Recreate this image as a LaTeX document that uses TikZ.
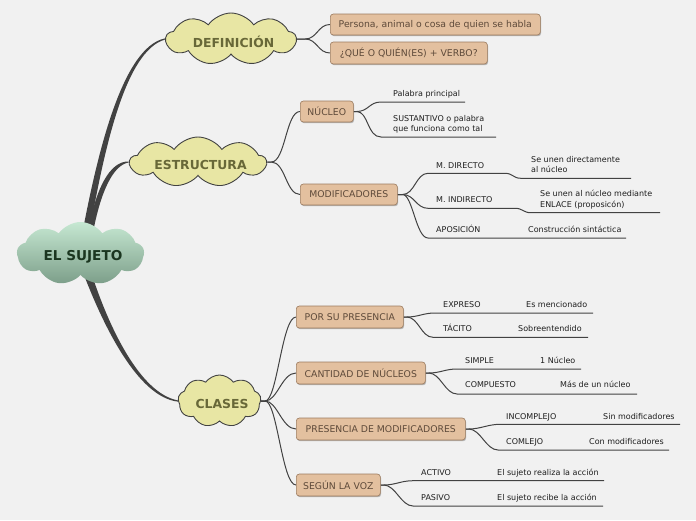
\documentclass[tikz,border=0pt]{standalone}
\usepackage{fontspec}
\setmainfont{DejaVu Sans}
\usetikzlibrary{shapes.symbols,shadows,calc,backgrounds}
\definecolor{bgc}{HTML}{F1F1F1}
\definecolor{cloudfill}{HTML}{E8E6A4}
\definecolor{cloudtext}{HTML}{686838}
\definecolor{boxfill}{HTML}{E3C09F}
\definecolor{boxdraw}{HTML}{9C7B5E}
\definecolor{boxtext}{HTML}{5E4A3A}
\definecolor{connc}{HTML}{424242}
\definecolor{roottop}{HTML}{C6E8D2}
\definecolor{rootbot}{HTML}{7C9E89}
\definecolor{roottext}{HTML}{1B3620}
\definecolor{labeltext}{HTML}{1E1E1E}
\tikzset{
  topic/.style={cloud, cloud puffs=9, cloud puff arc=110, cloud ignores aspect, draw=connc, line width=0.9pt, fill=cloudfill, inner sep=0pt},
  topictxt/.style={font=\fontsize{12.4}{14}\selectfont\bfseries, text=cloudtext, inner sep=0pt, xshift=2.5pt, yshift=-3pt},
  rootcloud/.style={cloud, cloud puffs=9, cloud puff arc=110, cloud ignores aspect, top color=roottop, bottom color=rootbot, draw=none, inner sep=0pt},
  roottxt/.style={font=\fontsize{13.6}{15}\selectfont\bfseries, text=roottext, inner sep=0pt, xshift=2.5pt, yshift=-3pt},
  tbox/.style={draw=boxdraw, fill=boxfill, rounded corners=3pt, line width=0.6pt, anchor=west, minimum height=21pt, inner sep=0pt, font=\fontsize{9.3}{11}\selectfont, text=boxtext, drop shadow={shadow xshift=0.8pt, shadow yshift=-1.2pt, fill=black, opacity=0.25}},
  lab/.style={anchor=base west, inner sep=0pt, font=\fontsize{8}{9}\selectfont, text=labeltext},
  link/.style={draw=connc, line width=1pt},
  trunk/.style={fill=connc, draw=none},
}
\begin{document}
\begin{tikzpicture}[x=1pt,y=-1pt]
% main clouds
\node[rootcloud, minimum width=127pt, minimum height=63pt, label={[roottxt]center:EL SUJETO}] (root) at (80.5,253.5) {};
\node[topic, minimum width=130pt, minimum height=52pt, label={[topictxt]center:DEFINICIÓN}] (def) at (231,39) {};
\node[topic, minimum width=136pt, minimum height=50pt, label={[topictxt]center:ESTRUCTURA}] (est) at (198,162) {};
\node[topic, minimum width=83pt, minimum height=52pt, label={[topictxt]center:CLASES}] (cls) at (219.5,401) {};
% boxes
\node[tbox, minimum width=210pt] (p1) at (330,24.5) {Persona, animal o cosa de quien se habla};
\node[tbox, minimum width=157pt, minimum height=22pt] (p2) at (330,53) {¿QUÉ O QUIÉN(ES) + VERBO?};
\node[tbox, minimum width=53pt] (nuc) at (300,111.5) {NÚCLEO};
\node[tbox, minimum width=97pt] (mod) at (300,194.5) {MODIFICADORES};
\node[tbox, minimum width=107pt, minimum height=22pt] (b1) at (296,317) {POR SU PRESENCIA};
\node[tbox, minimum width=129pt, minimum height=22pt] (b2) at (296,373) {CANTIDAD DE NÚCLEOS};
\node[tbox, minimum width=169pt, minimum height=22pt] (b3) at (296,429) {PRESENCIA DE MODIFICADORES};
\node[tbox, minimum width=84pt, minimum height=22pt] (b4) at (296,485) {SEGÚN LA VOZ};
% labels
\node[lab] (l1) at (393,96) {Palabra principal};
\node[lab] (l2a) at (393,121) {SUSTANTIVO o palabra};
\node[lab] (l2b) at (393,131) {que funciona como tal};
\node[lab] (m1) at (436,168) {M. DIRECTO};
\node[lab] (m1a) at (531,162) {Se unen directamente};
\node[lab] (m1b) at (531,172) {al núcleo};
\node[lab] (m2) at (436,202.5) {M. INDIRECTO};
\node[lab] (m2a) at (540,196.5) {Se unen al núcleo mediante};
\node[lab] (m2b) at (540,207) {ENLACE (proposicón)};
\node[lab] (m3) at (436,232.3) {APOSICIÓN};
\node[lab] (m3a) at (528,232.3) {Construcción sintáctica};
\node[lab] (c1) at (443,307.5) {EXPRESO};
\node[lab] (c1a) at (526,307.5) {Es mencionado};
\node[lab] (c2) at (443,331) {TÁCITO};
\node[lab] (c2a) at (518,331) {Sobreentendido};
\node[lab] (c3) at (465,363.3) {SIMPLE};
\node[lab] (c3a) at (540,363.3) {1 Núcleo};
\node[lab] (c4) at (465,387.3) {COMPUESTO};
\node[lab] (c4a) at (560,387.3) {Más de un núcleo};
\node[lab] (c5) at (506,419.3) {INCOMPLEJO};
\node[lab] (c5a) at (603,419.3) {Sin modificadores};
\node[lab] (c6) at (506,444.3) {COMLEJO};
\node[lab] (c6a) at (589,444.3) {Con modificadores};
\node[lab] (c7) at (421,475) {ACTIVO};
\node[lab] (c7a) at (497,475) {El sujeto realiza la acción};
\node[lab] (c8) at (421,500.7) {PASIVO};
\node[lab] (c8a) at (497,500.7) {El sujeto recibe la acción};
% line end coordinates
\coordinate (n1s) at (381,102); \coordinate (n1e) at (465,102);
\coordinate (n2s) at (381,137); \coordinate (n2e) at (496,137);
\coordinate (d1s) at (428,173.3); \coordinate (d1m) at (505,173.3); \coordinate (d1n) at (521,178.3); \coordinate (d1e) at (631,178.3);
\coordinate (d2s) at (428,208.3); \coordinate (d2m) at (515,208.3); \coordinate (d2n) at (531,212.7); \coordinate (d2e) at (660,212.7);
\coordinate (d3s) at (428,238); \coordinate (d3e) at (626,238);
\coordinate (e1s) at (435,313); \coordinate (e1e) at (593,313);
\coordinate (e2s) at (433,337.3); \coordinate (e2e) at (588,337.3);
\coordinate (e3s) at (457,369); \coordinate (e3e) at (581,369);
\coordinate (e4s) at (457,394); \coordinate (e4e) at (637,394);
\coordinate (e5s) at (500,424.3); \coordinate (e5e) at (680,424.3);
\coordinate (e6s) at (498,450); \coordinate (e6e) at (669,450);
\coordinate (e7s) at (413,480.7); \coordinate (e7e) at (604,480.7);
\coordinate (e8s) at (413,506); \coordinate (e8e) at (603,506);
\begin{scope}[on background layer]
\fill[bgc] (0,0) rectangle (696,520);
% trunks
\fill[trunk] (82,235) .. controls (98,150) and (123,47) .. ($(def.west)+(0,-0.6)$) -- ($(def.west)+(0,0.6)$) .. controls (125,51) and (104,150) .. (89,235) -- cycle;
\fill[trunk] (87,238) .. controls (95,188) and (110,161) .. ($(est.west)+(0,-0.5)$) -- ($(est.west)+(0,0.5)$) .. controls (113,165) and (100,192) .. (92,238) -- cycle;
\fill[trunk] (84,275) .. controls (104,327) and (138,397) .. ($(cls.west)+(0,0.6)$) -- ($(cls.west)+(0,-0.6)$) .. controls (139,393) and (108,324) .. (92,275) -- cycle;
% definicion
\draw[link] (def.east) -- +(8,0) .. controls +(12,0) and +(-12,0) .. (p1.west);
\draw[link] (def.east) -- +(8,0) .. controls +(12,0) and +(-12,0) .. (p2.west);
% estructura
\draw[link] (est.east) -- +(4,0) .. controls +(14,0) and +(-14,0) .. (nuc.west);
\draw[link] (est.east) -- +(4,0) .. controls +(14,0) and +(-14,0) .. (mod.west);
\draw[link] (nuc.east) -- +(3,0) .. controls +(12,0) and +(-12,0) .. (n1s) -- (n1e);
\draw[link] (nuc.east) -- +(3,0) .. controls +(12,0) and +(-14,0) .. (n2s) -- (n2e);
\draw[link] (mod.east) -- +(5,0) .. controls +(12,0) and +(-12,0) .. (d1s) -- (d1m) .. controls +(8,0) and +(-8,0) .. (d1n) -- (d1e);
\draw[link] (mod.east) -- +(5,0) .. controls +(12,0) and +(-12,0) .. (d2s) -- (d2m) .. controls +(8,0) and +(-8,0) .. (d2n) -- (d2e);
\draw[link] (mod.east) -- +(5,0) .. controls +(10,0) and +(-12,0) .. (d3s) -- (d3e);
% clases
\draw[link] (cls.east) -- +(4,0) .. controls +(12,0) and +(-14,0) .. (b1.west);
\draw[link] (cls.east) -- +(4,0) .. controls +(12,0) and +(-14,0) .. (b2.west);
\draw[link] (cls.east) -- +(4,0) .. controls +(12,0) and +(-14,0) .. (b3.west);
\draw[link] (cls.east) -- +(4,0) .. controls +(12,0) and +(-14,0) .. (b4.west);
\draw[link] (b1.east) -- +(3,0) .. controls +(12,0) and +(-12,0) .. (e1s) -- (e1e);
\draw[link] (b1.east) -- +(3,0) .. controls +(12,0) and +(-12,0) .. (e2s) -- (e2e);
\draw[link] (b2.east) -- +(3,0) .. controls +(12,0) and +(-12,0) .. (e3s) -- (e3e);
\draw[link] (b2.east) -- +(3,0) .. controls +(12,0) and +(-12,0) .. (e4s) -- (e4e);
\draw[link] (b3.east) -- +(3,0) .. controls +(12,0) and +(-12,0) .. (e5s) -- (e5e);
\draw[link] (b3.east) -- +(3,0) .. controls +(12,0) and +(-12,0) .. (e6s) -- (e6e);
\draw[link] (b4.east) -- +(3,0) .. controls +(12,0) and +(-12,0) .. (e7s) -- (e7e);
\draw[link] (b4.east) -- +(3,0) .. controls +(12,0) and +(-12,0) .. (e8s) -- (e8e);
\end{scope}
\end{tikzpicture}
\end{document}
